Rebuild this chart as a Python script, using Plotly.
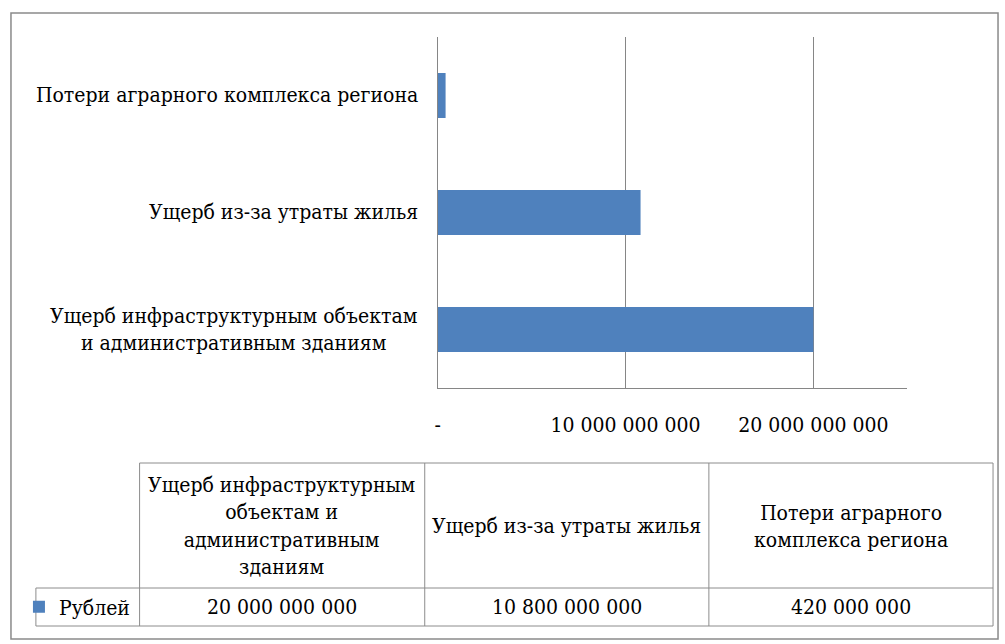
import plotly.graph_objects as go

# ---- data ----
categories = [
    "Ущерб инфраструктурным объектам и административным зданиям",
    "Ущерб из-за утраты жилья",
    "Потери аграрного комплекса региона",
]
axis_labels = [
    "Ущерб инфраструктурным объектам<br>и административным зданиям",
    "Ущерб из-за утраты жилья",
    "Потери аграрного комплекса региона",
]
table_headers = [
    "Ущерб инфраструктурным<br>объектам и<br>административным<br>зданиям",
    "Ущерб из-за утраты жилья",
    "Потери аграрного<br>комплекса региона",
]
series_name = "Рублей"
values = [20_000_000_000, 10_800_000_000, 420_000_000]
tick_values = [0, 10_000_000_000, 20_000_000_000]


def fmt(v):
    return "-" if v == 0 else f"{v:,}".replace(",", " ")


tick_text = [fmt(v) for v in tick_values]

W, H = 1005, 644
FONT = "DejaVu Serif Condensed, DejaVu Serif, serif"
FS = 21
BAR_COLOR = "#4F81BD"
LINE = "#8C8C8C"


def px(x):
    return x / W


def py(y):
    return 1 - y / H


fig = go.Figure()
fig.add_trace(go.Bar(
    y=categories, x=values, orientation="h", name=series_name,
    marker=dict(color=BAR_COLOR, line=dict(width=0)), width=0.385,
    showlegend=True,
))

fig.update_layout(
    width=W, height=H,
    margin=dict(l=0, r=0, t=0, b=0),
    paper_bgcolor="white", plot_bgcolor="white",
    font=dict(family=FONT, size=FS, color="#000000"),
    showlegend=True,
    legend=dict(x=px(16), y=py(607), xanchor="left", yanchor="middle",
                bgcolor="rgba(0,0,0,0)", font=dict(size=FS, family=FONT),
                itemwidth=30),
    xaxis=dict(
        domain=[px(436), px(907)], range=[0, 25_000_000_000],
        tickvals=tick_values, ticktext=tick_text,
        showgrid=True, gridcolor="#868686", gridwidth=1,
        showline=True, linecolor="#868686", linewidth=1,
        zeroline=False, ticks="", ticklabelstandoff=18,
        tickfont=dict(size=FS, family=FONT),
    ),
    yaxis=dict(
        domain=[py(388), py(37)], range=[-0.5, 2.5],
        categoryorder="array", categoryarray=categories,
        showticklabels=False, showgrid=False,
        showline=True, linecolor="#868686", linewidth=1,
        zeroline=False, ticks="",
    ),
)

# category labels (centered multi-line, right edge near axis)
for cat, lab in zip(categories, axis_labels):
    fig.add_annotation(x=px(418), xref="paper", y=cat, yref="y", text=lab,
                       showarrow=False, xanchor="right", yanchor="middle",
                       align="center", font=dict(size=FS, family=FONT))

# outer frame
fig.add_shape(type="rect", xref="paper", yref="paper",
              x0=px(8), x1=px(998), y0=py(639), y1=py(13),
              line=dict(color="#8A8A8A", width=1.5), layer="above")

# data table grid
cols = [137, 423, 708, 993]
lines = [
    (137, 463, 993, 463),
    (33, 588, 993, 588),
    (33, 626, 993, 626),
    (33, 588, 33, 626),
] + [(c, 463, c, 626) for c in cols]
for x0, y0, x1, y1 in lines:
    fig.add_shape(type="line", xref="paper", yref="paper",
                  x0=px(x0), y0=py(y0), x1=px(x1), y1=py(y1),
                  line=dict(color=LINE, width=1))

for i, (hdr, v) in enumerate(zip(table_headers, values)):
    cx = (cols[i] + cols[i + 1]) / 2
    fig.add_annotation(x=px(cx), y=py(526), xref="paper", yref="paper",
                       text=hdr, showarrow=False, align="center",
                       xanchor="center", yanchor="middle",
                       font=dict(size=FS, family=FONT))
    fig.add_annotation(x=px(cx), y=py(607), xref="paper", yref="paper",
                       text=fmt(v), showarrow=False, align="center",
                       xanchor="center", yanchor="middle",
                       font=dict(size=FS, family=FONT))

fig.write_html("out.html")
